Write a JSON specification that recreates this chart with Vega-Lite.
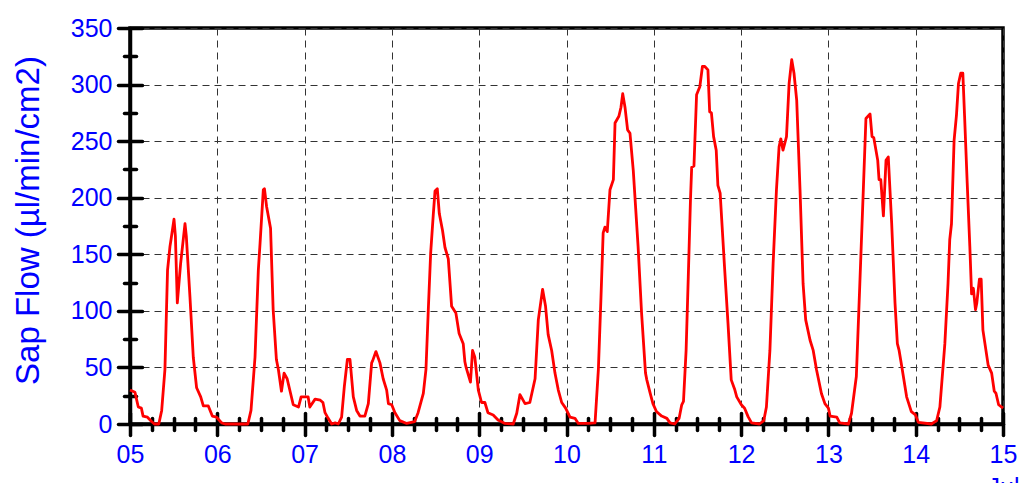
{
  "$schema": "https://vega.github.io/schema/vega-lite/v6.json",
  "width": 873,
  "height": 396,
  "autosize": {"type": "none"},
  "padding": {"left": 130, "top": 28, "right": 19, "bottom": 59},
  "config": {
    "view": {"stroke": "#000000", "strokeWidth": 3.5},
    "font": "Liberation Sans"
  },
  "data": {"values": [
    {"t":5.0,"v":30},{"t":5.057,"v":28},{"t":5.095,"v":15},{"t":5.13,"v":14},{"t":5.15,"v":7},{"t":5.2,"v":6},{"t":5.25,"v":2},{"t":5.28,"v":0},{"t":5.33,"v":0},{"t":5.363,"v":12},{"t":5.40,"v":48},{"t":5.43,"v":136},{"t":5.458,"v":157},{"t":5.47,"v":163},{"t":5.504,"v":181},{"t":5.52,"v":166},{"t":5.542,"v":107},{"t":5.58,"v":142},{"t":5.63,"v":177},{"t":5.645,"v":166},{"t":5.687,"v":112},{"t":5.725,"v":59},{"t":5.763,"v":32},{"t":5.81,"v":24},{"t":5.84,"v":16},{"t":5.897,"v":16},{"t":5.943,"v":7},{"t":5.992,"v":6},{"t":6.05,"v":1},{"t":6.09,"v":0},{"t":6.35,"v":0},{"t":6.386,"v":12},{"t":6.432,"v":59},{"t":6.47,"v":136},{"t":6.49,"v":160},{"t":6.527,"v":207},{"t":6.54,"v":208},{"t":6.565,"v":192},{"t":6.61,"v":173},{"t":6.64,"v":101},{"t":6.677,"v":57},{"t":6.70,"v":48},{"t":6.735,"v":29},{"t":6.765,"v":45},{"t":6.80,"v":40},{"t":6.87,"v":17},{"t":6.93,"v":15},{"t":6.96,"v":24},{"t":7.04,"v":24},{"t":7.06,"v":15},{"t":7.12,"v":22},{"t":7.18,"v":21},{"t":7.21,"v":19},{"t":7.234,"v":10},{"t":7.27,"v":5},{"t":7.31,"v":0},{"t":7.35,"v":1},{"t":7.386,"v":0},{"t":7.424,"v":6},{"t":7.455,"v":33},{"t":7.49,"v":57},{"t":7.52,"v":57},{"t":7.558,"v":24},{"t":7.596,"v":12},{"t":7.634,"v":7},{"t":7.69,"v":7},{"t":7.73,"v":18},{"t":7.768,"v":54},{"t":7.78,"v":56},{"t":7.817,"v":64},{"t":7.863,"v":54},{"t":7.90,"v":40},{"t":7.94,"v":30},{"t":7.96,"v":18},{"t":7.998,"v":17},{"t":8.035,"v":10},{"t":8.09,"v":3},{"t":8.17,"v":0.5},{"t":8.26,"v":2},{"t":8.30,"v":10},{"t":8.36,"v":27},{"t":8.39,"v":48},{"t":8.417,"v":101},{"t":8.444,"v":151},{"t":8.474,"v":185},{"t":8.494,"v":206},{"t":8.52,"v":208},{"t":8.543,"v":186},{"t":8.58,"v":171},{"t":8.608,"v":156},{"t":8.646,"v":146},{"t":8.684,"v":104},{"t":8.733,"v":98},{"t":8.77,"v":80},{"t":8.817,"v":71},{"t":8.836,"v":55},{"t":8.85,"v":50},{"t":8.90,"v":37},{"t":8.924,"v":65},{"t":8.95,"v":59},{"t":8.99,"v":30},{"t":9.027,"v":19},{"t":9.065,"v":19},{"t":9.10,"v":10},{"t":9.16,"v":8},{"t":9.216,"v":3.5},{"t":9.295,"v":0.5},{"t":9.39,"v":0},{"t":9.43,"v":9.5},{"t":9.467,"v":26},{"t":9.525,"v":18},{"t":9.58,"v":19},{"t":9.64,"v":40},{"t":9.677,"v":92},{"t":9.726,"v":119},{"t":9.76,"v":104},{"t":9.79,"v":79},{"t":9.83,"v":65},{"t":9.868,"v":45},{"t":9.906,"v":30},{"t":9.945,"v":19},{"t":9.99,"v":14},{"t":10.04,"v":6},{"t":10.097,"v":5},{"t":10.135,"v":0.5},{"t":10.25,"v":0.5},{"t":10.327,"v":1},{"t":10.365,"v":48},{"t":10.395,"v":112},{"t":10.42,"v":169},{"t":10.44,"v":174},{"t":10.467,"v":170},{"t":10.498,"v":207},{"t":10.537,"v":216},{"t":10.556,"v":266},{"t":10.60,"v":272},{"t":10.624,"v":280},{"t":10.644,"v":292},{"t":10.67,"v":280},{"t":10.70,"v":260},{"t":10.727,"v":257},{"t":10.765,"v":224},{"t":10.82,"v":157},{"t":10.86,"v":98},{"t":10.905,"v":45},{"t":10.92,"v":39},{"t":10.956,"v":28},{"t":10.99,"v":18},{"t":11.03,"v":11},{"t":11.09,"v":7},{"t":11.15,"v":5},{"t":11.186,"v":1},{"t":11.24,"v":0},{"t":11.29,"v":5},{"t":11.32,"v":17},{"t":11.34,"v":20},{"t":11.37,"v":65},{"t":11.395,"v":130},{"t":11.42,"v":198},{"t":11.434,"v":227},{"t":11.46,"v":228},{"t":11.49,"v":291},{"t":11.527,"v":298},{"t":11.557,"v":316},{"t":11.584,"v":316},{"t":11.62,"v":313},{"t":11.64,"v":276},{"t":11.66,"v":275},{"t":11.685,"v":254},{"t":11.715,"v":242},{"t":11.734,"v":211},{"t":11.76,"v":204},{"t":11.81,"v":139},{"t":11.85,"v":89},{"t":11.887,"v":39},{"t":11.925,"v":31},{"t":11.95,"v":24},{"t":12.003,"v":17},{"t":12.04,"v":14},{"t":12.08,"v":6.5},{"t":12.12,"v":1},{"t":12.21,"v":0},{"t":12.26,"v":3},{"t":12.29,"v":15},{"t":12.33,"v":65},{"t":12.367,"v":142},{"t":12.405,"v":207},{"t":12.435,"v":245},{"t":12.455,"v":252},{"t":12.48,"v":242},{"t":12.52,"v":254},{"t":12.55,"v":301},{"t":12.58,"v":322},{"t":12.606,"v":310},{"t":12.637,"v":286},{"t":12.675,"v":207},{"t":12.71,"v":124},{"t":12.74,"v":92},{"t":12.79,"v":74},{"t":12.826,"v":65},{"t":12.864,"v":48},{"t":12.92,"v":27},{"t":12.96,"v":18},{"t":13.0,"v":14},{"t":13.02,"v":7},{"t":13.096,"v":6},{"t":13.13,"v":1},{"t":13.23,"v":0},{"t":13.265,"v":9.5},{"t":13.32,"v":42},{"t":13.36,"v":124},{"t":13.40,"v":207},{"t":13.43,"v":270},{"t":13.477,"v":274},{"t":13.50,"v":254},{"t":13.52,"v":253},{"t":13.565,"v":233},{"t":13.58,"v":216},{"t":13.60,"v":216},{"t":13.63,"v":184},{"t":13.66,"v":233},{"t":13.686,"v":236},{"t":13.725,"v":177},{"t":13.763,"v":107},{"t":13.79,"v":71},{"t":13.81,"v":65},{"t":13.84,"v":51},{"t":13.896,"v":24},{"t":13.95,"v":11},{"t":13.998,"v":8},{"t":14.03,"v":1.5},{"t":14.18,"v":0},{"t":14.24,"v":3},{"t":14.277,"v":15},{"t":14.334,"v":71},{"t":14.37,"v":124},{"t":14.39,"v":163},{"t":14.41,"v":177},{"t":14.44,"v":251},{"t":14.467,"v":273},{"t":14.49,"v":301},{"t":14.516,"v":310},{"t":14.54,"v":310},{"t":14.56,"v":272},{"t":14.59,"v":213},{"t":14.62,"v":157},{"t":14.64,"v":115},{"t":14.66,"v":120},{"t":14.685,"v":101},{"t":14.70,"v":107},{"t":14.73,"v":128},{"t":14.75,"v":128},{"t":14.77,"v":83},{"t":14.83,"v":52},{"t":14.87,"v":45},{"t":14.90,"v":29},{"t":14.92,"v":27},{"t":14.95,"v":17},{"t":15.0,"v":14}
  ]},
  "layer": [
    {
      "mark": {"type": "line", "color": "#FF0000", "strokeWidth": 2.8, "strokeJoin": "round"},
      "encoding": {
        "x": {
          "field": "t", "type": "quantitative",
          "scale": {"domain": [5, 15], "nice": false, "zero": false},
          "axis": {
            "orient": "bottom",
            "values": [5,5.25,5.5,5.75,6,6.25,6.5,6.75,7,7.25,7.5,7.75,8,8.25,8.5,8.75,9,9.25,9.5,9.75,10,10.25,10.5,10.75,11,11.25,11.5,11.75,12,12.25,12.5,12.75,13,13.25,13.5,13.75,14,14.25,14.5,14.75,15],
            "labelExpr": "datum.value % 1 === 0 ? (datum.value < 10 ? '0' + datum.value : '' + datum.value) : ''",
            "labelOverlap": false,
            "labelFlush": false,
            "labelColor": "#0000FF",
            "labelFontSize": 25,
            "labelPadding": 7,
            "tickSize": {"condition": {"test": "datum.value % 1 === 0", "value": 11}, "value": 6},
            "tickWidth": 3.5,
            "tickColor": "#000000",
            "tickCap": "round",
            "domainColor": "#000000",
            "domainWidth": 3.5,
            "grid": true,
            "gridColor": "#333333",
            "gridWidth": 1,
            "gridDash": [7, 5],
            "gridOpacity": {"condition": {"test": "datum.value % 1 === 0", "value": 1}, "value": 0},
            "title": "Jul",
            "titleColor": "#0000FF",
            "titleFontSize": 25,
            "titleFontWeight": "normal",
            "titleX": 873,
            "titleY": 51,
            "titleAlign": "center",
            "titleBaseline": "top"
          }
        },
        "y": {
          "field": "v", "type": "quantitative",
          "scale": {"domain": [0, 350], "nice": false},
          "axis": {
            "orient": "left",
            "values": [0,25,50,75,100,125,150,175,200,225,250,275,300,325,350],
            "labelExpr": "datum.value % 50 === 0 ? '' + datum.value : ''",
            "labelOverlap": false,
            "labelFlush": false,
            "labelColor": "#0000FF",
            "labelFontSize": 25,
            "labelPadding": 6,
            "tickSize": {"condition": {"test": "datum.value % 50 === 0", "value": 12}, "value": 6},
            "tickWidth": 3.5,
            "tickColor": "#000000",
            "tickCap": "round",
            "domainColor": "#000000",
            "domainWidth": 3.5,
            "grid": true,
            "gridColor": "#333333",
            "gridWidth": 1,
            "gridDash": [7, 5],
            "gridOpacity": {"condition": {"test": "datum.value % 50 === 0", "value": 1}, "value": 0},
            "title": "Sap Flow (µl/min/cm2)",
            "titleColor": "#0000FF",
            "titleFontSize": 33,
            "titleFontWeight": "normal",
            "titleX": -85,
            "titleY": 192,
            "titleAlign": "center",
            "titleBaseline": "bottom"
          }
        }
      }
    },
    {
      "mark": {"type": "line", "strokeOpacity": 0},
      "encoding": {
        "x": {
          "field": "t", "type": "quantitative",
          "axis": {
            "orient": "top",
            "offset": -396,
            "values": [5,5.25,5.5,5.75,6,6.25,6.5,6.75,7,7.25,7.5,7.75,8,8.25,8.5,8.75,9,9.25,9.5,9.75,10,10.25,10.5,10.75,11,11.25,11.5,11.75,12,12.25,12.5,12.75,13,13.25,13.5,13.75,14,14.25,14.5,14.75,15],
            "labels": false,
            "domain": false,
            "grid": false,
            "title": null,
            "tickSize": {"condition": {"test": "datum.value % 1 === 0", "value": 11}, "value": 6},
            "tickWidth": 3.5,
            "tickColor": "#000000",
            "tickCap": "round"
          }
        },
        "y": {
          "field": "v", "type": "quantitative",
          "axis": {
            "orient": "right",
            "offset": -873,
            "values": [0,25,50,75,100,125,150,175,200,225,250,275,300,325,350],
            "labels": false,
            "domain": false,
            "grid": false,
            "title": null,
            "tickSize": {"condition": {"test": "datum.value % 50 === 0", "value": 12}, "value": 6},
            "tickWidth": 3.5,
            "tickColor": "#000000",
            "tickCap": "round"
          }
        }
      }
    }
  ],
  "resolve": {"axis": {"x": "independent", "y": "independent"}}
}
